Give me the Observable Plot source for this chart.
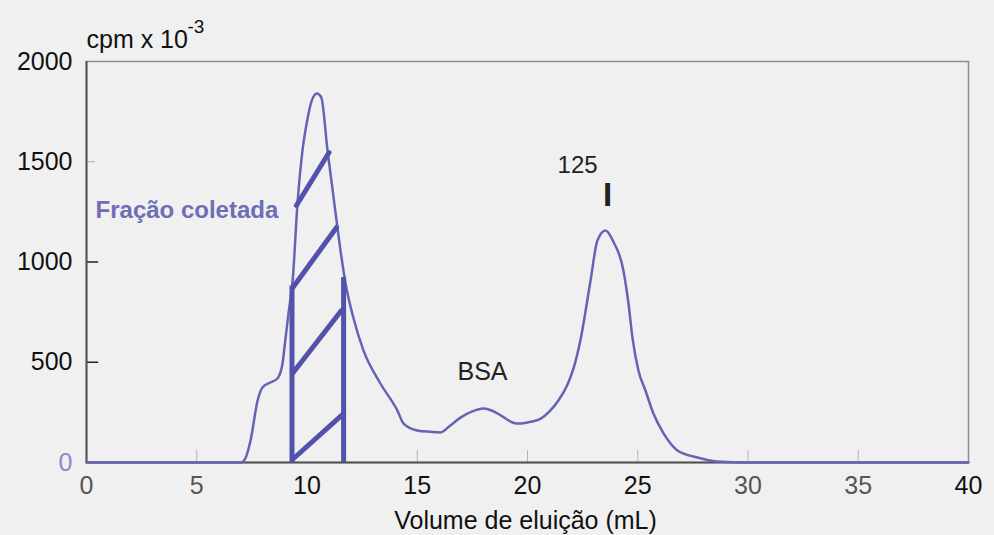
<!DOCTYPE html>
<html><head><meta charset="utf-8">
<script src="https://cdn.jsdelivr.net/npm/d3@7"></script>
<script src="https://cdn.jsdelivr.net/npm/@observablehq/plot@0.6"></script>
<style>
html,body{margin:0;padding:0;background:#f0f0f0;}
#chart svg{display:block;}
</style></head><body><div id="chart"></div>
<script>
// Elution profile (volume in mL, cpm x 10^-3)
const volume = [0, 5, 7.0, 7.2, 7.44, 7.76, 7.98, 8.34, 8.66, 8.89, 9.0, 9.16, 9.35, 9.57, 9.8, 10.0, 10.2, 10.45, 10.65, 10.93, 11.15, 11.38, 11.52, 11.75, 12.1, 12.56, 13.33, 14.1, 14.38, 15.0, 15.6, 16.05, 16.5, 16.96, 17.5, 18.0, 18.4, 18.8, 19.5, 20.0, 20.6, 21.0, 21.4, 21.8, 22.1, 22.4, 22.86, 23.17, 23.54, 23.9, 24.35, 24.58, 24.76, 25.03, 25.35, 25.71, 26.17, 26.8, 27.7, 28.6, 30, 35, 40];
const cpm    = [0, 0, 0, 20, 110, 309, 374, 399, 419, 494, 594, 743, 908, 1292, 1560, 1700, 1800, 1840, 1820, 1556, 1370, 1172, 1057, 893, 723, 559, 394, 259, 194, 160, 153, 150, 185, 224, 255, 269, 258, 234, 194, 200, 219, 255, 309, 385, 474, 610, 908, 1107, 1157, 1100, 958, 793, 623, 459, 359, 244, 145, 60, 25, 5, 0, 0, 0];

// Collected fraction (hatched region)
const fractionX = [9.32, 11.66];
const fractionTop = [880, 923];
const hatchX1 = [9.34, 9.34, 9.36, 9.52];
const hatchY1 = [15, 444, 873, 1282];
const hatchX2 = [11.66, 11.56, 11.34, 11.0];
const hatchY2 = [244, 758, 1172, 1546];

const yTicksDark = [500, 1000, 1500, 2000];
const yTicksLight = [0];
const xTicksDark = [10, 15, 20, 25, 40];
const xTicksLight = [0, 5, 30, 35];
const yInnerTicks = [500, 1000];
const yFaintTicks = [1500];
const xInnerTicks = [5, 15, 20, 25, 30, 35];

const profile = volume.map((v, i) => ({v, c: cpm[i]}));
const verticals = fractionX.map((x, i) => ({x, top: fractionTop[i]}));
const hatches = hatchX1.map((x1, i) => ({x1, y1: hatchY1[i], x2: hatchX2[i], y2: hatchY2[i]}));

const curveColor = "#6464b4";
const hatchColor = "#5252ad";
const font = "'Liberation Sans', Arial, Helvetica, sans-serif";
const fmt = d => String(d);

const chart = Plot.plot({
  width: 994,
  height: 535,
  marginLeft: 86,
  marginRight: 26,
  marginTop: 61,
  marginBottom: 73,
  x: {domain: [0, 40]},
  y: {domain: [0, 2000]},
  style: {background: "transparent", fontFamily: font, fontSize: "25px", color: "#111"},
  marks: [
    Plot.frame({stroke: "#8c8c8c", strokeWidth: 1.5}),
    Plot.ruleX(xInnerTicks, {y1: 0, y2: 60, stroke: "#b5b5b5", strokeWidth: 1}),
    Plot.ruleY(yInnerTicks, {x1: 0, x2: 0.55, stroke: "#222", strokeWidth: 1.5}),
    Plot.ruleY(yFaintTicks, {x1: 0, x2: 0.4, stroke: "#aaa", strokeWidth: 1}),
    Plot.ruleX([0], {stroke: "#555", strokeWidth: 2}),
    Plot.ruleY([0], {stroke: "#555", strokeWidth: 2}),
    Plot.line(profile, {x: "v", y: "c", stroke: curveColor, strokeWidth: 2.5, curve: "monotone-x"}),
    Plot.ruleX(verticals, {x: "x", y1: 0, y2: "top", stroke: hatchColor, strokeWidth: 5}),
    Plot.link(hatches, {x1: "x1", y1: "y1", x2: "x2", y2: "y2", stroke: hatchColor, strokeWidth: 5, strokeLinecap: "round"}),
    Plot.text(["Fração coletada"], {text: d => d, x: 0.41, y: 1257, textAnchor: "start", fill: "#6e6eb6", fontSize: 24, fontWeight: "bold"}),
    Plot.text(["BSA"], {text: d => d, x: 17.96, y: 449, fill: "#222", fontSize: 25}),
    Plot.text(["125"], {text: d => d, x: 22.27, y: 1481, fill: "#222", fontSize: 24}),
    Plot.text(["I"], {text: d => d, x: 23.63, y: 1332, fill: "#222", fontSize: 33, fontWeight: "bold"}),
    Plot.text(["cpm x 10"], {text: d => d, frameAnchor: "top-left", textAnchor: "start", lineAnchor: "bottom", dy: -14, fill: "#111", fontSize: 25}),
    Plot.text(["-3"], {text: d => d, frameAnchor: "top-left", textAnchor: "start", lineAnchor: "bottom", dx: 101, dy: -29, fill: "#111", fontSize: 19}),
    Plot.text(["Volume de eluição (mL)"], {text: d => d, frameAnchor: "bottom", lineAnchor: "middle", dx: -2, dy: 58, fill: "#111", fontSize: 25}),
    Plot.axisY(yTicksDark, {tickSize: 0, tickPadding: 14, label: null, fontSize: 25, fill: "#111", tickFormat: fmt}),
    Plot.axisY(yTicksLight, {tickSize: 0, tickPadding: 14, label: null, fontSize: 25, fill: "#8a8ac8", tickFormat: fmt}),
    Plot.axisX(xTicksDark, {tickSize: 0, tickPadding: 14, label: null, fontSize: 25, fill: "#111", tickFormat: fmt}),
    Plot.axisX(xTicksLight, {tickSize: 0, tickPadding: 14, label: null, fontSize: 25, fill: "#555", tickFormat: fmt})
  ]
});
document.getElementById("chart").append(chart);
</script>
</body></html>
